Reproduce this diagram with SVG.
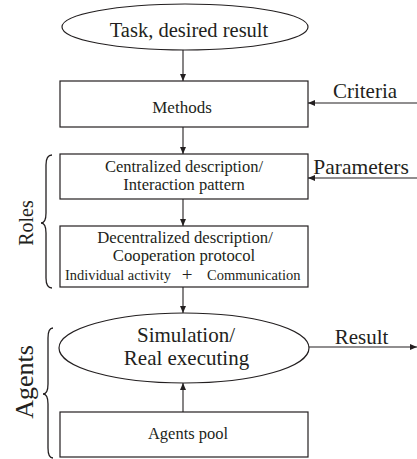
<svg xmlns="http://www.w3.org/2000/svg" width="417" height="459" viewBox="0 0 417 459">
<style>
.shape{fill:#fff;stroke:#231f20;stroke-width:1.2}
.conn{fill:none;stroke:#231f20;stroke-width:1.1}
.brace{fill:none;stroke:#231f20;stroke-width:1.3}
text{font-family:"Liberation Serif","Times New Roman",serif;fill:#231f20}
.c{text-anchor:middle}
</style>
<defs>
<marker id="arr" markerWidth="7" markerHeight="6" refX="7" refY="3" orient="auto" markerUnits="userSpaceOnUse">
<path d="M0,0 L7,3 L0,6 Z" fill="#231f20"/>
</marker>
</defs>
<rect width="417" height="459" fill="#fff"/>
<g id="connectors">
<line class="conn" x1="183" y1="50" x2="183" y2="81" marker-end="url(#arr)"/>
<line class="conn" x1="183" y1="127" x2="183" y2="154" marker-end="url(#arr)"/>
<line class="conn" x1="183" y1="199" x2="183" y2="226" marker-end="url(#arr)"/>
<line class="conn" x1="183" y1="287" x2="183" y2="313" marker-end="url(#arr)"/>
<line class="conn" x1="183" y1="412" x2="183" y2="383" marker-end="url(#arr)"/>
<line class="conn" x1="417" y1="103" x2="308" y2="103" marker-end="url(#arr)"/>
<line class="conn" x1="417" y1="178" x2="308" y2="178" marker-end="url(#arr)"/>
<line class="conn" x1="309" y1="347" x2="417" y2="347" marker-end="url(#arr)"/>
</g>
<g id="task">
<ellipse class="shape" cx="185" cy="27" rx="123" ry="23"/>
<text class="c" x="189" y="37" font-size="20.5">Task, desired result</text>
</g>
<g id="methods">
<rect class="shape" x="60" y="81" width="248" height="46"/>
<text class="c" x="182" y="113" font-size="17">Methods</text>
</g>
<g id="criteria">
<text class="c" x="365" y="98" font-size="21">Criteria</text>
</g>
<g id="parameters">
<text class="c" x="361" y="174" font-size="21.5">Parameters</text>
</g>
<g id="centralized">
<rect class="shape" x="60" y="154" width="248" height="45"/>
<text class="c" x="184" y="172" font-size="16.5">Centralized description/</text>
<text class="c" x="184" y="190" font-size="16.5">Interaction pattern</text>
</g>
<g id="decentralized">
<rect class="shape" x="60" y="226" width="248" height="61"/>
<text class="c" x="185" y="243" font-size="16.7">Decentralized description/</text>
<text class="c" x="184" y="261" font-size="16.7">Cooperation protocol</text>
<text x="65" y="280" font-size="14.4">Individual activity</text>
<text class="c" x="187" y="281" font-size="19">+</text>
<text x="207" y="280" font-size="14.5">Communication</text>
</g>
<g id="simulation">
<ellipse class="shape" cx="184" cy="348" rx="125" ry="35"/>
<text class="c" x="186" y="342" font-size="21">Simulation/</text>
<text class="c" x="186.5" y="365" font-size="21">Real executing</text>
</g>
<g id="result">
<text class="c" x="361.5" y="344" font-size="21">Result</text>
</g>
<g id="agents-pool">
<rect class="shape" x="60" y="412" width="248" height="45"/>
<text class="c" x="188" y="439" font-size="16.5">Agents pool</text>
</g>
<g id="roles">
<path class="brace" d="M52,155 Q46,155 46,165 L46,213 Q46,223 41,223 Q46,223 46,233 L46,278 Q46,288 52,288"/>
<text class="c" transform="translate(33,223) rotate(-90)" font-size="20">Roles</text>
</g>
<g id="agents">
<path class="brace" d="M53,328 Q48,328 48,338 L48,384 Q48,394 43,394 Q48,394 48,404 L48,448 Q48,458 53,458"/>
<text class="c" transform="translate(33,382) rotate(-90)" font-size="26">Agents</text>
</g>
</svg>
